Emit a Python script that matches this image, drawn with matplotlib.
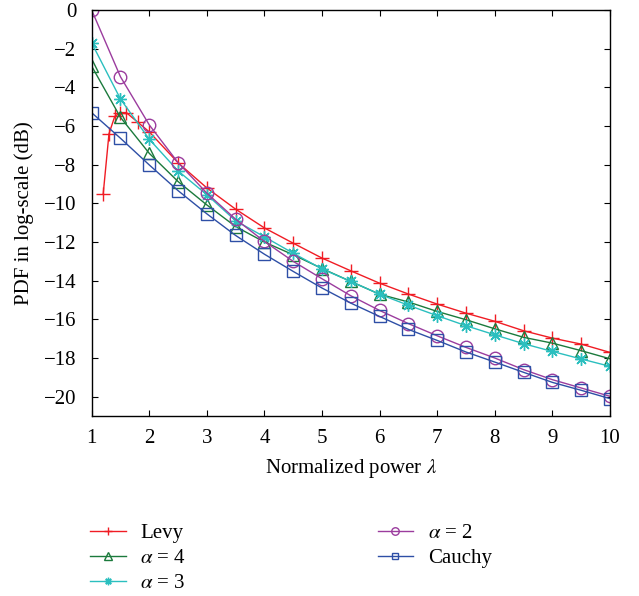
import matplotlib
matplotlib.use("Agg")
import matplotlib.pyplot as plt
import numpy as np

plt.rcParams['font.family'] = ['serif']
plt.rcParams['font.serif'] = ['Liberation Serif', 'DejaVu Serif']
plt.rcParams['mathtext.fontset'] = 'stix'

# normalized power (x) and PDF values in dB
lam = [1, 1.5, 2, 2.5, 3, 3.5, 4, 4.5, 5, 5.5, 6, 6.5, 7, 7.5, 8, 8.5, 9, 9.5, 10]
lam_levy = [1.2, 1.3, 1.4, 1.5, 1.6, 1.8, 2, 2.5, 3, 3.5, 4, 4.5, 5, 5.5, 6, 6.5,
            7, 7.5, 8, 8.5, 9, 9.5, 10]

levy = [-9.5, -6.4, -5.5, -5.3, -5.3, -5.8, -6.3, -7.9, -9.2, -10.3, -11.27, -12.06,
        -12.83, -13.49, -14.13, -14.69, -15.21, -15.68, -16.1, -16.59, -16.97, -17.28, -17.71]
alpha4 = [-2.9, -5.55, -7.41, -8.87, -10.08, -11.2, -12.0, -12.66, -13.37, -14.04,
          -14.7, -15.1, -15.59, -16.02, -16.49, -16.93, -17.23, -17.62, -18.04]
alpha3 = [-1.7, -4.6, -6.68, -8.32, -9.55, -10.9, -11.73, -12.58, -13.39, -14.04,
          -14.7, -15.27, -15.81, -16.33, -16.8, -17.26, -17.66, -18.05, -18.43]
alpha2 = [0.0, -3.45, -5.94, -7.89, -9.47, -10.82, -11.97, -13.0, -13.9, -14.78,
          -15.54, -16.22, -16.85, -17.45, -18.0, -18.6, -19.12, -19.55, -19.98]
cauchy = [-5.31, -6.63, -8.01, -9.34, -10.54, -11.66, -12.63, -13.52, -14.38, -15.16,
          -15.85, -16.52, -17.09, -17.69, -18.21, -18.74, -19.26, -19.67, -20.1]

fig = plt.figure(figsize=(6.39, 5.96), dpi=100)
ax = fig.add_axes([0.1435, 0.302, 0.8111, 0.681])

ax.plot(lam_levy, levy, color='#f01c24', marker='+', ms=10, mew=1, lw=1, label='Levy')
ax.plot(lam, alpha4, color='#1b7a3c', marker='^', ms=9, mfc='none', mew=1, lw=1,
        label=r'$\alpha$ = 4')
ax.plot(lam, alpha3, color='#2bbfbf', marker=(8, 2, 0), ms=9, mew=1, lw=1,
        label=r'$\alpha$ = 3')
ax.plot(lam, alpha2, color='#9b3c9e', marker='o', ms=9, mfc='none', mew=1, lw=1,
        label=r'$\alpha$ = 2')
ax.plot(lam, cauchy, color='#2e4fa6', marker='s', ms=8, mfc='none', mew=1, lw=1,
        label='Cauchy')

ax.set_xlim(1, 10)
ax.set_ylim(-21, 0)
ax.set_xticks(range(1, 11))
ax.set_yticks(range(-20, 1, 2))
ax.tick_params(direction='in', length=4, labelsize=15, top=True, right=True)
ax.tick_params(axis='x', pad=9)
ax.tick_params(axis='y', pad=11)
for sp in ax.spines.values():
    sp.set_linewidth(1)
ax.set_xlabel(r'Normalized power $\lambda$', fontsize=15, labelpad=7)
ax.set_ylabel('PDF in log-scale (dB)', fontsize=15, labelpad=7)

fig.legend(loc='upper left', bbox_to_anchor=(0.128, 0.135), ncol=2, frameon=False,
           fontsize=15, markerscale=0.6, handlelength=1.7, handletextpad=0.7,
           columnspacing=9.2, labelspacing=0.25, borderaxespad=0)

fig.savefig('out.png', dpi=100)
